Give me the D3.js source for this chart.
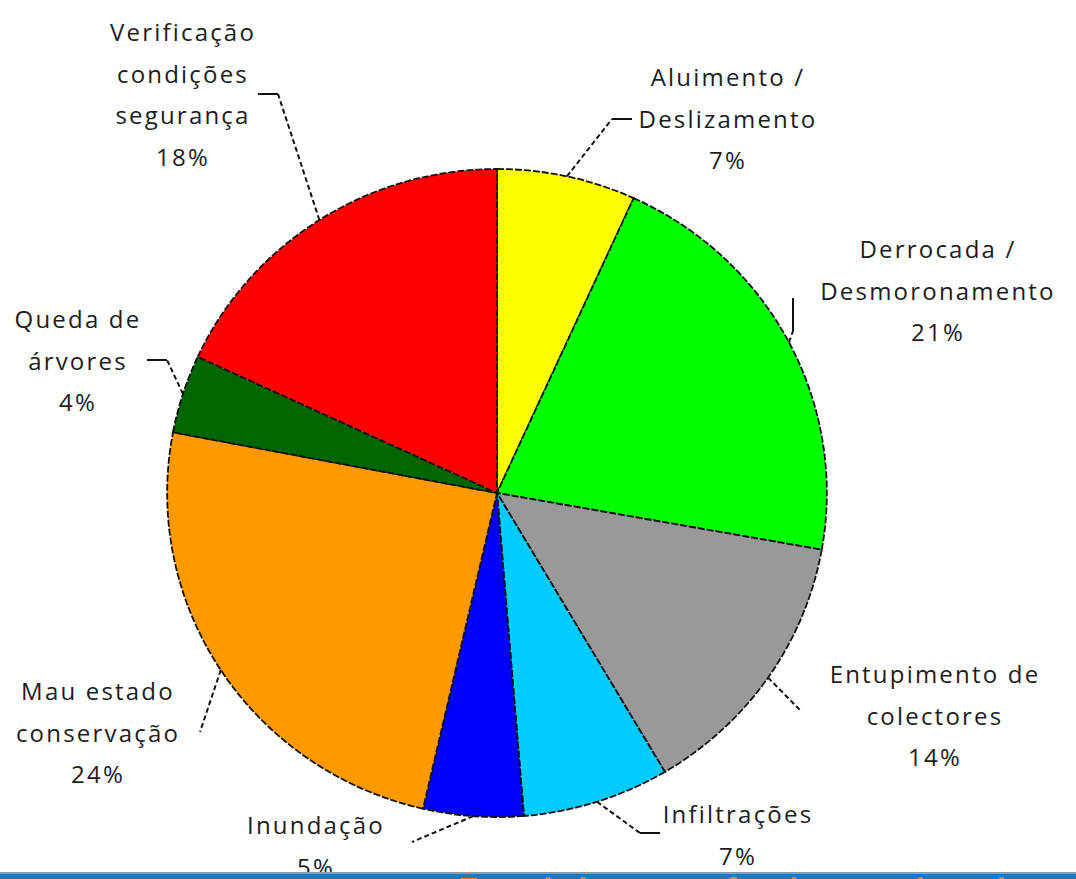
<!DOCTYPE html>
<html>
<head>
<meta charset="utf-8">
<script src="https://d3js.org/d3.v7.min.js"></script>
<style>
  body { margin: 0; background: #fff; }
  svg { display: block; }
</style>
</head>
<body>
<script>

// data (clockwise from 12 o'clock)
const categories = [
  ["Aluimento /", "Deslizamento"],
  ["Derrocada /", "Desmoronamento"],
  ["Entupimento de", "colectores"],
  ["Infiltrações"],
  ["Inundação"],
  ["Mau estado", "conservação"],
  ["Queda de", "árvores"],
  ["Verificação", "condições", "segurança"]
];
const values = [6.8, 21.0, 13.7, 7.2, 4.9, 24.4, 3.9, 18.1];
const pctLabels = ["7%", "21%", "14%", "7%", "5%", "24%", "4%", "18%"];
const colors = ["#ffff00", "#00ff00", "#999999", "#00ccff", "#0000ff", "#ff9900", "#006600", "#ff0000"];

// label layout: text centre x, first line y, leader bend point, solid tail end
const labelLayout = [
  { x: 728, y: 78,  bend: [612, 119], tail: [632, 119] },
  { x: 938, y: 250, bend: [793, 331], tail: [793, 298] },
  { x: 935, y: 675, bend: [800, 710], tail: null },
  { x: 738, y: 815, bend: [640, 833], tail: [660, 833] },
  { x: 316, y: 826, bend: [412, 842], tail: null },
  { x: 98,  y: 692, bend: [200, 732], tail: null },
  { x: 78,  y: 320, bend: [167, 360], tail: [147, 360] },
  { x: 183, y: 33,  bend: [278, 94],  tail: [258, 94] }
];

const W = 1076, H = 879;
const cx = 497, cy = 493, r = 324, sx = 1.018;
const lineH = 41.5;

const svg = d3.select("body").append("svg")
  .attr("width", W)
  .attr("height", H);

const pie = d3.pie().sort(null).value(d => d);
const arcs = pie(values);
const arc = d3.arc().innerRadius(0).outerRadius(r);

const g = svg.append("g")
  .attr("transform", `translate(${cx},${cy}) scale(${sx},1)`);

g.selectAll("path")
  .data(arcs)
  .enter()
  .append("path")
  .attr("d", arc)
  .attr("fill", (d, i) => colors[i])
  .attr("stroke", "#111")
  .attr("stroke-width", 1.8)
  .attr("stroke-dasharray", "7,2")
  .attr("vector-effect", "non-scaling-stroke");

// leader lines
arcs.forEach(function(a, i) {
  const m = (a.startAngle + a.endAngle) / 2;
  const p0 = [cx + sx * r * Math.sin(m), cy - r * Math.cos(m)];
  const L = labelLayout[i];
  svg.append("line")
    .attr("x1", p0[0]).attr("y1", p0[1])
    .attr("x2", L.bend[0]).attr("y2", L.bend[1])
    .attr("stroke", "#111")
    .attr("stroke-width", 2)
    .attr("stroke-dasharray", "5,3");
  if (L.tail) {
    svg.append("line")
      .attr("x1", L.bend[0]).attr("y1", L.bend[1])
      .attr("x2", L.tail[0]).attr("y2", L.tail[1])
      .attr("stroke", "#111")
      .attr("stroke-width", 2);
  }
});

// labels
categories.forEach(function(lines, i) {
  const L = labelLayout[i];
  const t = svg.append("text")
    .attr("text-anchor", "middle")
    .attr("font-family", "'Open Sans', sans-serif")
    .attr("font-size", 24)
    .attr("letter-spacing", 2.2)
    .attr("fill", "#1c1c1c");
  lines.concat([pctLabels[i]]).forEach(function(s, k) {
    t.append("tspan")
      .attr("x", L.x)
      .attr("y", L.y + k * lineH)
      .attr("dy", "0.35em")
      .text(s);
  });
});

// cut-off footer bar
svg.append("rect")
  .attr("x", 0).attr("y", 872)
  .attr("width", W).attr("height", 2)
  .attr("fill", "#9a9a9a");
svg.append("rect")
  .attr("x", 0).attr("y", 874)
  .attr("width", W).attr("height", 5)
  .attr("fill", "#1b78c2");
svg.append("text")
  .attr("x", 460).attr("y", 900)
  .attr("font-family", "'Open Sans', sans-serif")
  .attr("font-weight", "bold")
  .attr("font-size", 30)
  .attr("letter-spacing", 4)
  .attr("fill", "#ff7f1e")
  .text("Total de ocorrências registadas em 2010");

</script>
</body>
</html>
